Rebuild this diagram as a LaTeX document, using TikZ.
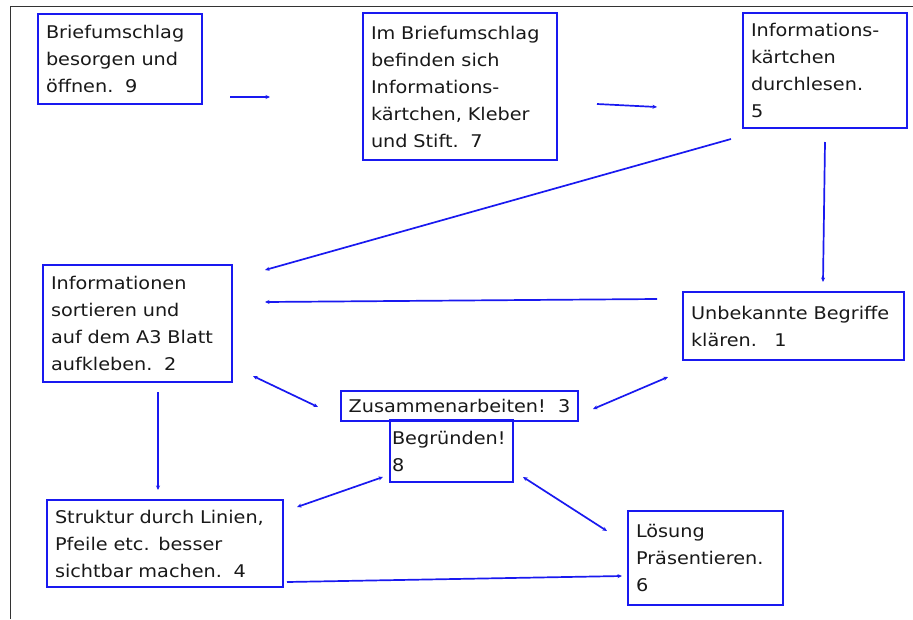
\documentclass[tikz,border=0pt]{standalone}
\usepackage{fontspec}
\setmainfont{DejaVu Sans}[FakeStretch=1.1]
\usetikzlibrary{arrows.meta}
\definecolor{boxblue}{RGB}{25,25,240}
\begin{document}
\begin{tikzpicture}[x=1pt,y=-1pt,
  card/.style={draw=boxblue,line width=2pt,inner xsep=8pt,inner ysep=0pt,align=left,
    font=\fontsize{17.5pt}{27pt}\selectfont,text=black!90},
  link/.style={draw=boxblue,line width=1.7pt,-{Stealth[length=4.5pt,width=4pt]}},
  dlink/.style={draw=boxblue,line width=1.7pt,{Stealth[length=4.5pt,width=4pt]}-{Stealth[length=4.5pt,width=4pt]}}]
\useasboundingbox (0,0) rectangle (913,619);
\fill[white] (0,0) rectangle (913,619);
\draw[black!80,line width=1pt] (10,619) -- (10,6) -- (913,6);
\node[card,text width=148pt,minimum height=90pt] (b1) at (120,59) {Briefumschlag\\besorgen und\\öffnen.\ \ 9};
\node[card,text width=178pt,minimum height=147pt] (b2) at (460,86.5) {Im Briefumschlag\\befinden sich\\Informations-\\kärtchen, Kleber\\und Stift.\ \ 7};
\node[card,text width=148pt,minimum height=115pt] (b3) at (825,70.5) {Informations-\\kärtchen\\durchlesen.\\5};
\node[card,text width=173pt,minimum height=117pt] (b4) at (137.5,323.5) {Informationen\\sortieren und\\auf dem A3 Blatt\\aufkleben.\ \ 2};
\node[card,text width=205pt,minimum height=68pt] (b5) at (793.5,326) {Unbekannte Begriffe\\klären.\ \ \ 1};
\node[card,inner xsep=2pt,minimum width=237pt,minimum height=30pt] (b6) at (459.5,406) {Zusammenarbeiten!\ \ 3};
\node[card,inner xsep=2pt,text width=119pt,minimum height=62pt] (b7) at (451.5,451) {Begründen!\\8};
\node[card,text width=220pt,minimum height=87pt] (b8) at (165,543.5) {Struktur durch Linien,\\Pfeile etc. besser\\sichtbar machen.\ \ 4};
\node[card,text width=139pt,minimum height=94pt] (b9) at (705.5,558) {Lösung\\Präsentieren.\\6};
% connector end points (arrows float between the cards)
\coordinate (a1s) at (230,97);  \coordinate (a1e) at (270,97);
\coordinate (a2s) at (597,104); \coordinate (a2e) at (657,107);
\coordinate (a3s) at (731,139); \coordinate (a3e) at (265,270);
\coordinate (a4s) at (825,142); \coordinate (a4e) at (823,282);
\coordinate (a5s) at (657,299); \coordinate (a5e) at (265,302);
\coordinate (a6s) at (253,376); \coordinate (a6e) at (318,407);
\coordinate (a7s) at (668,377); \coordinate (a7e) at (593,409);
\coordinate (a8s) at (158,392); \coordinate (a8e) at (158,490);
\coordinate (a9s) at (383,477); \coordinate (a9e) at (297,507);
\coordinate (a10s) at (523,477); \coordinate (a10e) at (607,531);
\coordinate (a11s) at (287,582); \coordinate (a11e) at (622,576);
\draw[link] (a1s) -- (a1e);
\draw[link] (a2s) -- (a2e);
\draw[link] (a3s) -- (a3e);
\draw[link] (a4s) -- (a4e);
\draw[link] (a5s) -- (a5e);
\draw[dlink] (a6s) -- (a6e);
\draw[dlink] (a7s) -- (a7e);
\draw[link] (a8s) -- (a8e);
\draw[dlink] (a9s) -- (a9e);
\draw[dlink] (a10s) -- (a10e);
\draw[link] (a11s) -- (a11e);
\end{tikzpicture}
\end{document}
